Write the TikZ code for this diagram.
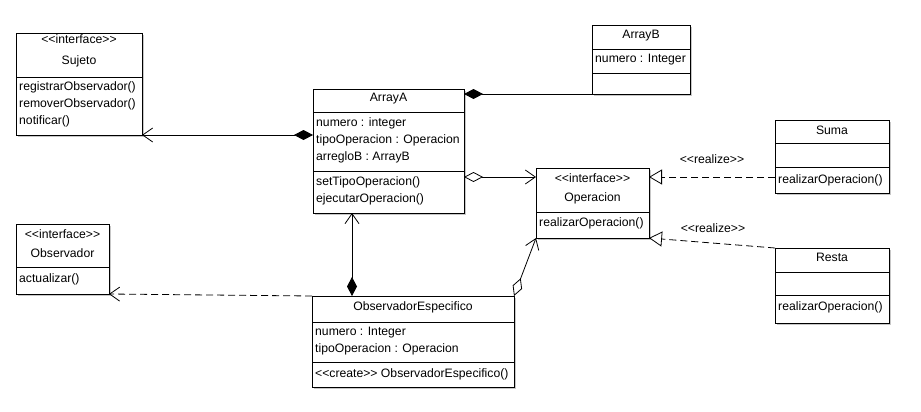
\documentclass[tikz,border=0pt]{standalone}
\usepackage{fontspec}
\setmainfont{Liberation Sans}
\usetikzlibrary{arrows.meta,shadows}
\newcommand\stereo[1]{<{}<#1>{}>}
\begin{document}
\begin{tikzpicture}[x=1pt,y=-1pt,
  box/.style={draw, fill=white, line width=0.9pt, inner sep=0pt, outer sep=0pt, anchor=north west,
    drop shadow={shadow xshift=2pt,shadow yshift=-2pt,fill=black!22,opacity=1}},
  txt/.style={inner sep=0pt, font=\fontsize{12.2}{14}\selectfont, text height=9pt, text depth=3pt},
  mem/.style={txt, anchor=west},
  sepline/.style={line width=0.9pt},
  conn/.style={line width=0.8pt},
  dashconn/.style={line width=0.8pt, dash pattern=on 7pt off 4pt},
  fdia/.tip={Diamond[length=19pt,width=10pt]},
  odia/.tip={Diamond[open,fill=white,length=19pt,width=10pt]},
  barb/.tip={Straight Barb[length=10pt,width=14pt]},
  tri/.tip={Triangle[open,fill=white,length=13pt,width=15pt]}
]
\useasboundingbox[fill=white] (0,0) rectangle (921,412);

% Sujeto
\node[box, minimum width=126pt, minimum height=102pt] (sujeto) at (16,33) {};
\draw[sepline] (16,77) -- (142,77);
\node[txt] (sujetoSt) at (79,41) {\stereo{interface}};
\node[txt] (sujetoN) at (79,61) {Sujeto};
\node[mem] (sujetoM1) at (19,87) {registrarObservador()};
\node[mem] (sujetoM2) at (19,104) {removerObservador()};
\node[mem] (sujetoM3) at (19,121) {notificar()};

% ArrayA
\node[box, minimum width=151pt, minimum height=124pt] (arrayA) at (313,89) {};
\draw[sepline] (313,112) -- (464,112);
\draw[sepline] (313,171) -- (464,171);
\node[txt] (arrayAN) at (388.5,99) {ArrayA};
\node[mem] (arrayAA1) at (316,123) {numero : integer};
\node[mem] (arrayAA2) at (316,140) {tipoOperacion : Operacion};
\node[mem] (arrayAA3) at (316,157) {arregloB : ArrayB};
\node[mem] (arrayAM1) at (316,182) {setTipoOperacion()};
\node[mem] (arrayAM2) at (316,199) {ejecutarOperacion()};

% ArrayB
\node[box, minimum width=98pt, minimum height=69pt] (arrayB) at (592,25) {};
\draw[sepline] (592,49) -- (690,49);
\draw[sepline] (592,73) -- (690,73);
\node[txt] (arrayBN) at (641,36) {ArrayB};
\node[mem] (arrayBA1) at (595,60) {numero : Integer};

% Operacion
\node[box, minimum width=113pt, minimum height=70pt] (operacion) at (536,168) {};
\draw[sepline] (536,212) -- (649,212);
\node[txt] (operSt) at (592.5,179) {\stereo{interface}};
\node[txt] (operN) at (592.5,198) {Operacion};
\node[mem] (operM1) at (539,223) {realizarOperacion()};

% Suma
\node[box, minimum width=114pt, minimum height=73pt] (suma) at (775,120) {};
\draw[sepline] (775,143) -- (889,143);
\draw[sepline] (775,167) -- (889,167);
\node[txt] (sumaN) at (832,131) {Suma};
\node[mem] (sumaM1) at (778,180) {realizarOperacion()};

% Resta
\node[box, minimum width=114pt, minimum height=75pt] (resta) at (775,248) {};
\draw[sepline] (775,272) -- (889,272);
\draw[sepline] (775,295) -- (889,295);
\node[txt] (restaN) at (832,258) {Resta};
\node[mem] (restaM1) at (778,307) {realizarOperacion()};

% Observador
\node[box, minimum width=93pt, minimum height=70pt] (observador) at (16,224) {};
\draw[sepline] (16,267) -- (109,267);
\node[txt] (obsSt) at (62.5,235) {\stereo{interface}};
\node[txt] (obsN) at (62.5,254) {Observador};
\node[mem] (obsM1) at (19,279) {actualizar()};

% ObservadorEspecifico
\node[box, minimum width=202pt, minimum height=91pt] (obsesp) at (312,296) {};
\draw[sepline] (312,322) -- (514,322);
\draw[sepline] (312,362) -- (514,362);
\node[txt] (obsespN) at (413,307) {ObservadorEspecifico};
\node[mem] (obsespA1) at (315,332) {numero : Integer};
\node[mem] (obsespA2) at (315,349) {tipoOperacion : Operacion};
\node[mem] (obsespM1) at (315,374) {\stereo{create} ObservadorEspecifico()};

% connectors
\draw[conn, fdia-barb] ([yshift=-46pt]arrayA.north west) -- (sujeto.south east);
\draw[conn, fdia-] ([yshift=-5pt]arrayA.north east) -- (arrayB.south west);
\draw[conn, odia-barb] ([yshift=-88pt]arrayA.north east) -- ([yshift=-9pt]operacion.north west);
\draw[dashconn, -tri] ([yshift=-57pt]suma.north west) -- ([yshift=-9pt]operacion.north east);
\draw[dashconn, -tri] (resta.north west) -- (operacion.south east);
\draw[conn, fdia-barb] ([xshift=40pt]obsesp.north west) -- ([xshift=39pt]arrayA.south west);
\draw[dashconn, -barb] (obsesp.north west) -- (observador.south east);
\draw[conn, odia-barb] (obsesp.north east) -- (operacion.south west);

\node[txt] (real1) at (712,160) {\stereo{realize}};
\node[txt] (real2) at (713,229) {\stereo{realize}};
\end{tikzpicture}
\end{document}
